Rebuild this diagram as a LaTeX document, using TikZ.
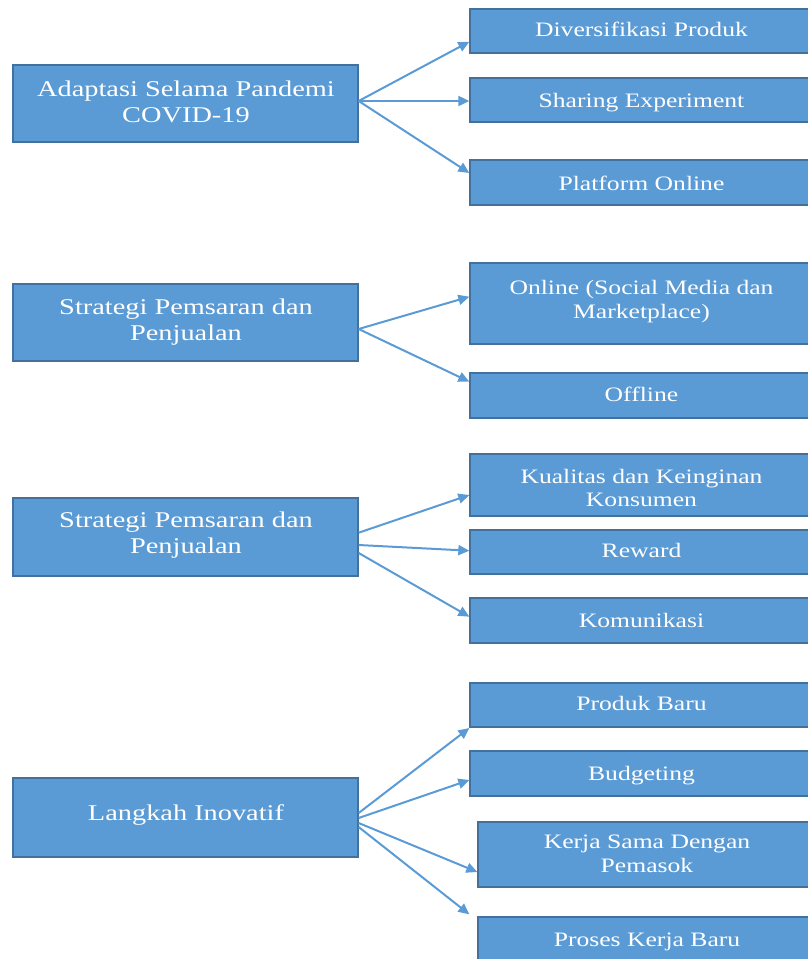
\documentclass[tikz,border=0pt]{standalone}
\usepackage{fontspec}
\setmainfont{Liberation Serif}
\newfontfamily\leftfont{Liberation Serif}[FakeStretch=1.26]
\newfontfamily\rightfont{Liberation Serif}[FakeStretch=1.25]
\usetikzlibrary{arrows.meta}
\definecolor{boxblue}{HTML}{5B9BD5}
\definecolor{boxedge}{HTML}{41719C}
\tikzset{
  mainbox/.style={draw=boxedge, fill=boxblue, line width=1.3pt, inner sep=0pt, minimum width=345pt},
  subbox/.style={draw=boxedge, fill=boxblue, line width=1.3pt, inner sep=0pt, minimum width=343pt},
  maintext/.style={text=white, font=\leftfont\fontsize{22.5}{26}\selectfont, align=center, anchor=base, inner sep=0pt},
  subtext/.style={text=white, font=\rightfont\fontsize{20.5}{23.5}\selectfont, align=center, anchor=base, inner sep=0pt},
  link/.style={draw=boxblue, line width=2pt, -{Triangle[length=11pt,width=10pt]}},
}
\begin{document}
\begin{tikzpicture}[x=1pt, y=-1pt]
\path[use as bounding box] (0,0) rectangle (808,959);
\clip (0,0) rectangle (808,959);

% ---- boxes: left column (topics) ----
\node[mainbox, minimum height=77pt] (a1) at (185.5,103.5) {};
\node[mainbox, minimum height=77pt] (a2) at (185.5,322.5) {};
\node[mainbox, minimum height=78pt] (a3) at (185.5,537) {};
\node[mainbox, minimum height=79pt] (a4) at (185.5,817.5) {};

% ---- boxes: right column (details) ----
\node[subbox, minimum height=44pt] (r11) at (641.5,31) {};
\node[subbox, minimum height=44pt] (r12) at (641.5,100) {};
\node[subbox, minimum height=45pt] (r13) at (641.5,182.5) {};

\node[subbox, minimum height=81pt] (r21) at (641.5,303.5) {};
\node[subbox, minimum height=45pt] (r22) at (641.5,395.5) {};

\node[subbox, minimum height=62pt] (r31) at (641.5,485) {};
\node[subbox, minimum height=44pt] (r32) at (641.5,552) {};
\node[subbox, minimum height=45pt] (r33) at (641.5,620.5) {};

\node[subbox, minimum height=44pt] (r41) at (641.5,705) {};
\node[subbox, minimum height=45pt] (r42) at (641.5,773.5) {};
\node[subbox, minimum width=338pt, minimum height=65pt] (r43) at (647,854.5) {};
\node[subbox, minimum width=338pt, minimum height=45pt] (r44) at (647,939.5) {};

% ---- connectors ----
\draw[link] ([yshift=2.5pt]a1.east) -- ([yshift=-10.7pt]r11.west);
\draw[link] ([yshift=2.5pt]a1.east) -- ([yshift=-1pt]r12.west);
\draw[link] ([yshift=2.5pt]a1.east) -- ([yshift=9.5pt]r13.west);

\draw[link] ([yshift=-6.5pt]a2.east) -- ([yshift=6.8pt]r21.west);
\draw[link] ([yshift=-6.5pt]a2.east) -- ([yshift=13.8pt]r22.west);

\draw[link] ([yshift=4.3pt]a3.east) -- ([yshift=-10pt]r31.west);
\draw[link] ([yshift=-8pt]a3.east) -- ([yshift=1.3pt]r32.west);
\draw[link] ([yshift=-16pt]a3.east) -- ([yshift=3.8pt]r33.west);

\draw[link] ([yshift=4.5pt]a4.east) -- ([yshift=-23pt]r41.west);
\draw[link] ([yshift=-0.5pt]a4.east) -- ([yshift=-6.5pt]r42.west);
\draw[link] ([yshift=-5.5pt]a4.east) -- ([yshift=-17.5pt]r43.west);
\draw[link] ([yshift=-9.5pt]a4.east) -- ([shift={(-8pt,2pt)}]r44.north west);

% ---- labels (anchored on the baseline of the last line) ----
\node[maintext] (ta1) at (186,122.7) {Adaptasi Selama Pandemi\\COVID-19};
\node[maintext] (ta2) at (186,340.7) {Strategi Pemsaran dan\\Penjualan};
\node[maintext] (ta3) at (186,553.5) {Strategi Pemsaran dan\\Penjualan};
\node[maintext] (ta4) at (186,820.7) {Langkah Inovatif};

\node[subtext] (tr11) at (641.5,36.7) {Diversifikasi Produk};
\node[subtext] (tr12) at (641.5,107) {Sharing Experiment};
\node[subtext] (tr13) at (641.5,190) {Platform Online};
\node[subtext] (tr21) at (641.5,318.3) {Online (Social Media dan\\Marketplace)};
\node[subtext] (tr22) at (641.5,401.7) {Offline};
\node[subtext] (tr31) at (641.5,506.7) {Kualitas dan Keinginan\\Konsumen};
\node[subtext] (tr32) at (641.5,557) {Reward};
\node[subtext] (tr33) at (641.5,627) {Komunikasi};
\node[subtext] (tr41) at (641.5,710.7) {Produk Baru};
\node[subtext] (tr42) at (641.5,780) {Budgeting};
\node[subtext] (tr43) at (647,872.3) {Kerja Sama Dengan\\Pemasok};
\node[subtext] (tr44) at (647,946) {Proses Kerja Baru};
\end{tikzpicture}
\end{document}
